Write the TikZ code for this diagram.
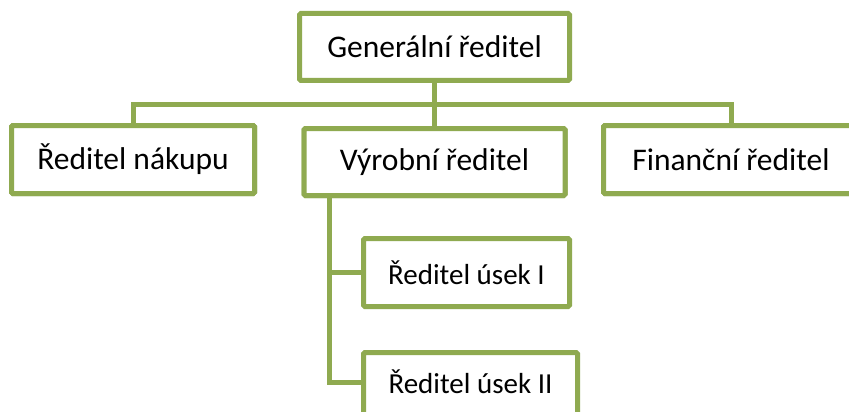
\documentclass[tikz,border=0pt]{standalone}
\usepackage{fontspec}
\setmainfont{Carlito}
\definecolor{boxgreen}{RGB}{143,170,80}
\tikzset{
  orgbox/.style={draw=boxgreen, line width=5pt, fill=white, rounded corners=1.5pt,
    inner sep=0pt, outer sep=0pt, anchor=center, text=black,
    font=\fontsize{31.5}{36}\selectfont},
  subbox/.style={orgbox, font=\fontsize{29}{34}\selectfont},
  subtext/.style={inner sep=0pt, text=black, font=\fontsize{29}{34}\selectfont},
  link/.style={draw=boxgreen, line width=5pt}
}
\begin{document}
\begin{tikzpicture}[x=1pt, y=-1pt]
  \clip (0,0) rectangle (849,412);
  \fill[white] (0,0) rectangle (849,412);

  % top level
  \node[orgbox, minimum width=270pt, minimum height=67pt] (gen) at (434.5,47) {Generální ředitel};

  % second level
  \node[orgbox, minimum width=243pt, minimum height=68pt] (nak) at (133,159.5) {Ředitel nákupu};
  \node[orgbox, minimum width=261pt, minimum height=67pt] (vyr) at (434.5,162) {Výrobní ředitel};
  \node[orgbox, minimum width=255pt, minimum height=68pt] (fin) at (731,159.5) {Finanční ředitel};

  % third level
  \node[subbox, minimum width=206pt, minimum height=68pt] (u1) at (466.5,272.5) {Ředitel úsek I};
  \node[subbox, minimum width=214pt, minimum height=68pt] (u2) at (470.5,386.5) {};
  \node[subtext] (u2t) at ([yshift=4.5pt]u2.center) {Ředitel úsek II};

  % connectors
  \coordinate (bus) at (434.5,104);
  \coordinate (rail) at (329,195.5);
  \draw[link] (gen.south) -- (vyr.north);
  \draw[link] (nak.north) |- (bus) -| (fin.north);
  \draw[link] (rail) |- (u1.west);
  \draw[link] (rail) |- (u2.west |- u2t);

  % redraw boxes on top of the connector ends
  \node[orgbox, minimum width=243pt, minimum height=68pt] at (nak) {Ředitel nákupu};
  \node[orgbox, minimum width=261pt, minimum height=67pt] at (vyr) {Výrobní ředitel};
  \node[orgbox, minimum width=255pt, minimum height=68pt] at (fin) {Finanční ředitel};
\end{tikzpicture}
\end{document}
